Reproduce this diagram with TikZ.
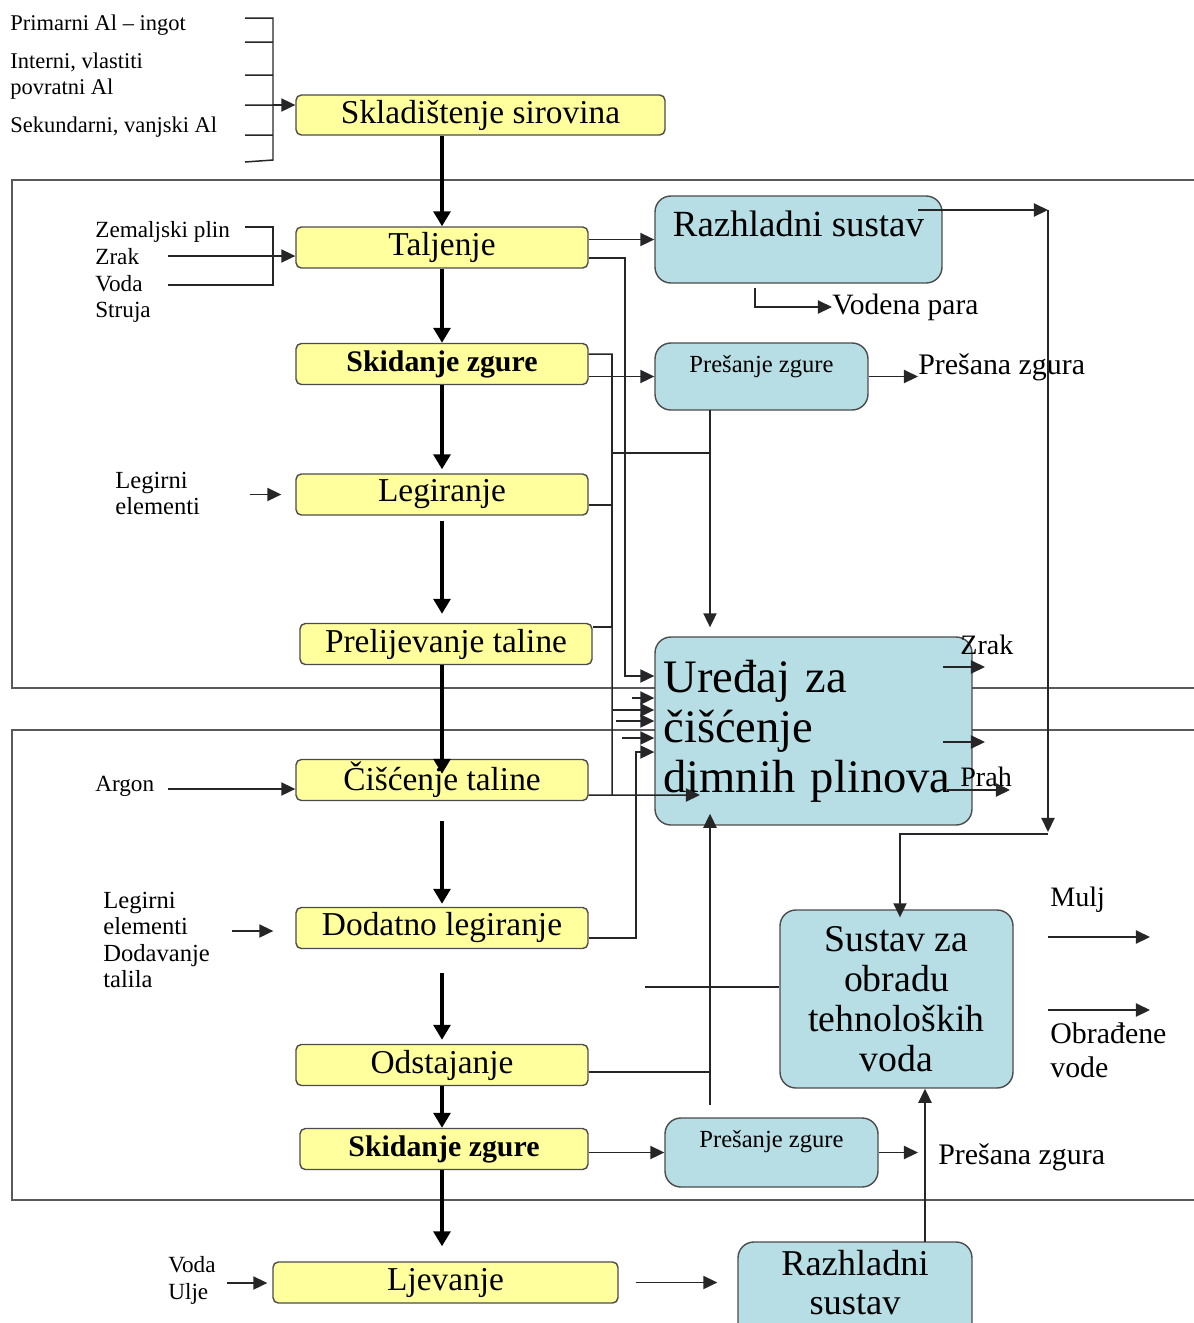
\documentclass[tikz,border=0pt]{standalone}
\usepackage{fontspec}
\setmainfont{Liberation Serif}
\usepackage{xcolor}
\usepackage{tikz}
\usetikzlibrary{arrows.meta, positioning, calc}
\definecolor{stageyellow}{RGB}{255,255,158}
\definecolor{unitblue}{RGB}{183,222,228}
\newcommand{\stagefont}{\fontsize{19}{22}\selectfont}
\newcommand{\skidfont}{\fontsize{17}{20}\selectfont\bfseries}
\newcommand{\notefont}{\fontsize{13.2}{15.3}\selectfont}
\newcommand{\outfont}{\fontsize{17}{19.3}\selectfont}
\tikzstyle{stage} = [rectangle, rounded corners=3pt, minimum width=5.84cm, minimum height=0.82cm, inner sep=1pt, text centered, draw=black!70, line width=0.8pt, fill=stageyellow, font=\stagefont]
\tikzstyle{unit} = [rectangle, rounded corners=9pt, inner sep=1pt, align=center, draw=black!70, line width=0.8pt, fill=unitblue]
\tikzstyle{note} = [anchor=west, inner sep=0pt, align=left, font=\notefont]
\tikzstyle{zone} = [line width=0.9pt, draw=black!65]
\tikzstyle{wire} = [line width=0.85pt, draw=black!85]
\tikzstyle{arrow} = [line width=0.85pt, draw=black!85, -{Triangle[length=8pt,width=7.5pt]}]
\tikzstyle{flow} = [line width=2.4pt, -{Triangle[length=8.5pt,width=9.5pt]}]

\begin{document}
\begin{tikzpicture}[x=0.02cm, y=-0.02cm]
    \useasboundingbox (0,0) rectangle (1194,1323);

    \draw[zone] (1194,180) -- (12,180) -- (12,688) -- (1194,688);
    \draw[zone] (1194,730) -- (12,730) -- (12,1200) -- (1194,1200);

    \node[stage, minimum width=7.38cm, minimum height=0.8cm] (sklad) at (480.5,115) {Skladištenje sirovina};
    \node[stage] (talj) at (442,247.5) {Taljenje};
    \node[stage, font=\skidfont] (skidA) at (442,364) {Skidanje zgure};
    \node[stage] (leg) at (442,494.5) {Legiranje};
    \node[stage] (prel) at (446,644) {Prelijevanje taline};
    \node[stage] (cisc) at (442,780) {Čišćenje taline};
    \node[stage] (dod) at (442,928) {Dodatno legiranje};
    \node[stage] (odst) at (442,1065) {Odstajanje};
    \node[stage, minimum width=5.76cm, font=\skidfont] (skidB) at (444,1149) {Skidanje zgure};
    \node[stage, minimum width=6.9cm] (ljev) at (445.5,1282.5) {Ljevanje};

    \node[unit, minimum width=5.74cm, minimum height=1.74cm, text height=0.5cm, text depth=0.64cm, font=\fontsize{21}{24}\selectfont] (razhA) at (798.5,239.5) {Razhladni sustav};
    \node[unit, minimum width=4.26cm, minimum height=1.34cm, text height=0.35cm, text depth=0.51cm, font=\fontsize{14}{17}\selectfont] (presA) at (761.5,376.5) {Prešanje zgure};
    \node[unit, minimum width=6.34cm, minimum height=3.76cm, text width=6cm, align=left, font=\fontsize{26.5}{28.5}\selectfont] (ured) at (813.5,731) {Uređaj za\\čišćenje\\dimnih plinova};
    \node[unit, minimum width=4.66cm, minimum height=3.56cm, font=\fontsize{21.5}{22.7}\selectfont] (sust) at (896.5,999) {Sustav za\\obradu\\tehnoloških\\voda};
    \node[unit, minimum width=4.26cm, minimum height=1.38cm, text height=0.35cm, text depth=0.55cm, font=\fontsize{14}{17}\selectfont] (presB) at (771.5,1152.5) {Prešanje zgure};
    \node[unit, minimum width=4.68cm, minimum height=1.96cm, text depth=0.35cm, font=\fontsize{20.7}{22.3}\selectfont] (razhB) at (855,1291) {Razhladni\\sustav};

    \node[note, font=\fontsize{12.8}{14.8}\selectfont] (primarni) at (10,25) {Primarni Al – ingot};
    \node[note, font=\fontsize{12.8}{14.8}\selectfont] (interni) at (10,76) {Interni, vlastiti\\povratni Al};
    \node[note, font=\fontsize{12.8}{14.8}\selectfont] (sekundarni) at (10,127) {Sekundarni, vanjski Al};
    \node[note] (taljin) at (95,272) {Zemaljski plin\\Zrak\\Voda\\Struja};
    \node[note, font=\fontsize{14}{14.8}\selectfont] (legin) at (115,493) {Legirni\\elementi};
    \node[note] (argon) at (95,786) {Argon};
    \node[note, font=\fontsize{14}{15.1}\selectfont] (dodin) at (103,940) {Legirni\\elementi\\Dodavanje\\talila};
    \node[note] (ljevin) at (168,1280) {Voda\\Ulje};
    \node[note, font=\fontsize{16.8}{19}\selectfont] (vodena) at (832,307) {Vodena para};
    \node[note, font=\outfont] (zguraA) at (918,367) {Prešana zgura};
    \node[note, font=\fontsize{16}{18}\selectfont] (zrak) at (960,645) {Zrak};
    \node[note, font=\fontsize{16}{18}\selectfont] (prah) at (960,777) {Prah};
    \node[note, font=\fontsize{16}{18}\selectfont] (mulj) at (1050,900) {Mulj};
    \node[note, font=\outfont] (obradene) at (1050,1050) {Obrađene\\vode};
    \node[note, font=\outfont] (zguraB) at (938,1157) {Prešana zgura};

    \draw[flow] (talj.north |- sklad.south) -- (talj.north);
    \draw[flow] (talj.south) -- (skidA.north);
    \draw[flow, shorten >=0.08cm] (skidA.south) -- (leg.north);
    \draw[flow, shorten <=0.1cm, shorten >=0.18cm] (leg.south) -- (leg.south |- prel.north);
    \draw[flow, shorten >=-0.3cm] (cisc.north |- prel.south) -- (cisc.north);
    \draw[flow, shorten <=0.4cm, shorten >=0.06cm] (cisc.south) -- (dod.north);
    \draw[flow, shorten <=0.48cm, shorten >=0.08cm] (dod.south) -- (odst.north);
    \draw[flow] (odst.south) -- (odst.south |- skidB.north);
    \draw[flow, shorten >=0.3cm] (odst.south |- skidB.south) -- (odst.south |- ljev.north);

    \draw[wire] (245,18) -- (273,18) -- (273,160) -- (245,162)
        (245,42) -- (273,42) (245,75) -- (273,75) (245,105) -- (273,105) (245,135) -- (273,135);
    \coordinate (brk) at (273,105);
    \draw[arrow] (brk) -- (brk -| sklad.west);

    \draw[wire] (245,227) -- (273,227) -- (273,285) -- (168,285);
    \coordinate (zrakin) at (168,256);
    \draw[arrow] (zrakin) -- (zrakin -| talj.west);
    \coordinate (legstart) at (250,494.5);
    \draw[arrow, shorten >=0.28cm] (legstart) -- (legstart -| leg.west);
    \coordinate (argonin) at (168,789);
    \draw[arrow] (argonin) -- (argonin -| cisc.west);
    \coordinate (dodstart) at (232,931);
    \draw[arrow, shorten >=0.44cm] (dodstart) -- (dodstart -| dod.west);
    \coordinate (ljevstart) at (227,1283);
    \draw[arrow, shorten >=0.1cm] (ljevstart) -- (ljevstart -| ljev.west);
    \draw[arrow, shorten <=0.34cm, shorten >=0.4cm] (ljev.east) -- (ljev.east -| razhB.west);

    \draw[arrow] (talj.east |- razhA.west) -- (razhA.west);
    \coordinate (talbus) at (625,676);
    \draw[arrow] ([yshift=-0.21cm]talj.east) -| (talbus) -- (talbus -| ured.west);
    \draw[arrow] (skidA.east |- presA.west) -- (presA.west);
    \draw[arrow] (presA.east) -- (presA.east -| zguraA.west);

    \coordinate (bustop) at (612,354);
    \coordinate (busbot) at (612,795);
    \draw[wire] ([yshift=0.2cm]skidA.east) -- (bustop) -- (busbot);
    \draw[wire] ([yshift=-0.21cm]leg.east) -| (bustop);
    \draw[wire] ([yshift=0.34cm]prel.east) -| (bustop);
    \coordinate (cross) at (612,453);
    \coordinate (presdrop) at (710,410);
    \draw[wire] (cross) -- (cross -| presdrop);
    \draw[arrow, shorten >=0.18cm] (presdrop) -- (presdrop |- ured.north);

    \coordinate (stubA) at (632,698);
    \coordinate (busin) at (612,710);
    \coordinate (stubB) at (616,721);
    \coordinate (stubC) at (622,738);
    \draw[arrow] (stubA) -- (stubA -| ured.west);
    \draw[arrow] (busin) -- (busin -| ured.west);
    \draw[arrow] (stubB) -- (stubB -| ured.west);
    \draw[arrow] (stubC) -- (stubC -| ured.west);
    \coordinate (cisctip) at (700,795);
    \draw[arrow] ([yshift=-0.3cm]cisc.east) -- (cisctip);
    \coordinate (dodbus) at (636,752);
    \draw[arrow] ([yshift=-0.2cm]dod.east) -| (dodbus) -- (dodbus -| ured.west);

    \coordinate (presrise) at (710,1105);
    \draw[arrow, shorten >=-0.24cm] (presrise) -- (presrise |- ured.south);
    \draw[wire] ([yshift=-0.14cm]odst.east) -| (presrise);
    \coordinate (sustin) at (645,987);
    \draw[wire] (sustin) -- (sustin -| sust.west);
    \draw[arrow] (skidB.east |- presB.west) -- (presB.west);
    \draw[arrow, shorten >=0.4cm] (presB.east) -- (presB.east -| zguraB.west);

    \coordinate (razhout) at (918,210);
    \coordinate (turnA) at (1048,210);
    \coordinate (turnB) at (1048,832);
    \coordinate (turnC) at (900,834);
    \draw[arrow] (razhout) -- (turnA);
    \draw[arrow] (turnA) -- (turnB);
    \draw[arrow, shorten >=-0.16cm] (turnB |- turnC) -- (turnC) -- (turnC |- sust.north);
    \coordinate (vapor) at (755,288);
    \draw[arrow] (vapor) |- (vodena.west);

    \coordinate (zrakout) at (943,667);
    \coordinate (midout) at (943,742);
    \coordinate (prahout) at (947,790);
    \draw[arrow] (zrakout) -- ++(42,0);
    \draw[arrow] (midout) -- ++(42,0);
    \draw[arrow] (prahout) -- ++(63,0);
    \coordinate (muljout) at (1048,937);
    \coordinate (vodeout) at (1048,1010);
    \draw[arrow] (muljout) -- ++(102,0);
    \draw[arrow] (vodeout) -- ++(102,0);
    \coordinate (coolrise) at (925,1242);
    \draw[arrow] (coolrise) -- (coolrise |- sust.south);
\end{tikzpicture}
\end{document}
